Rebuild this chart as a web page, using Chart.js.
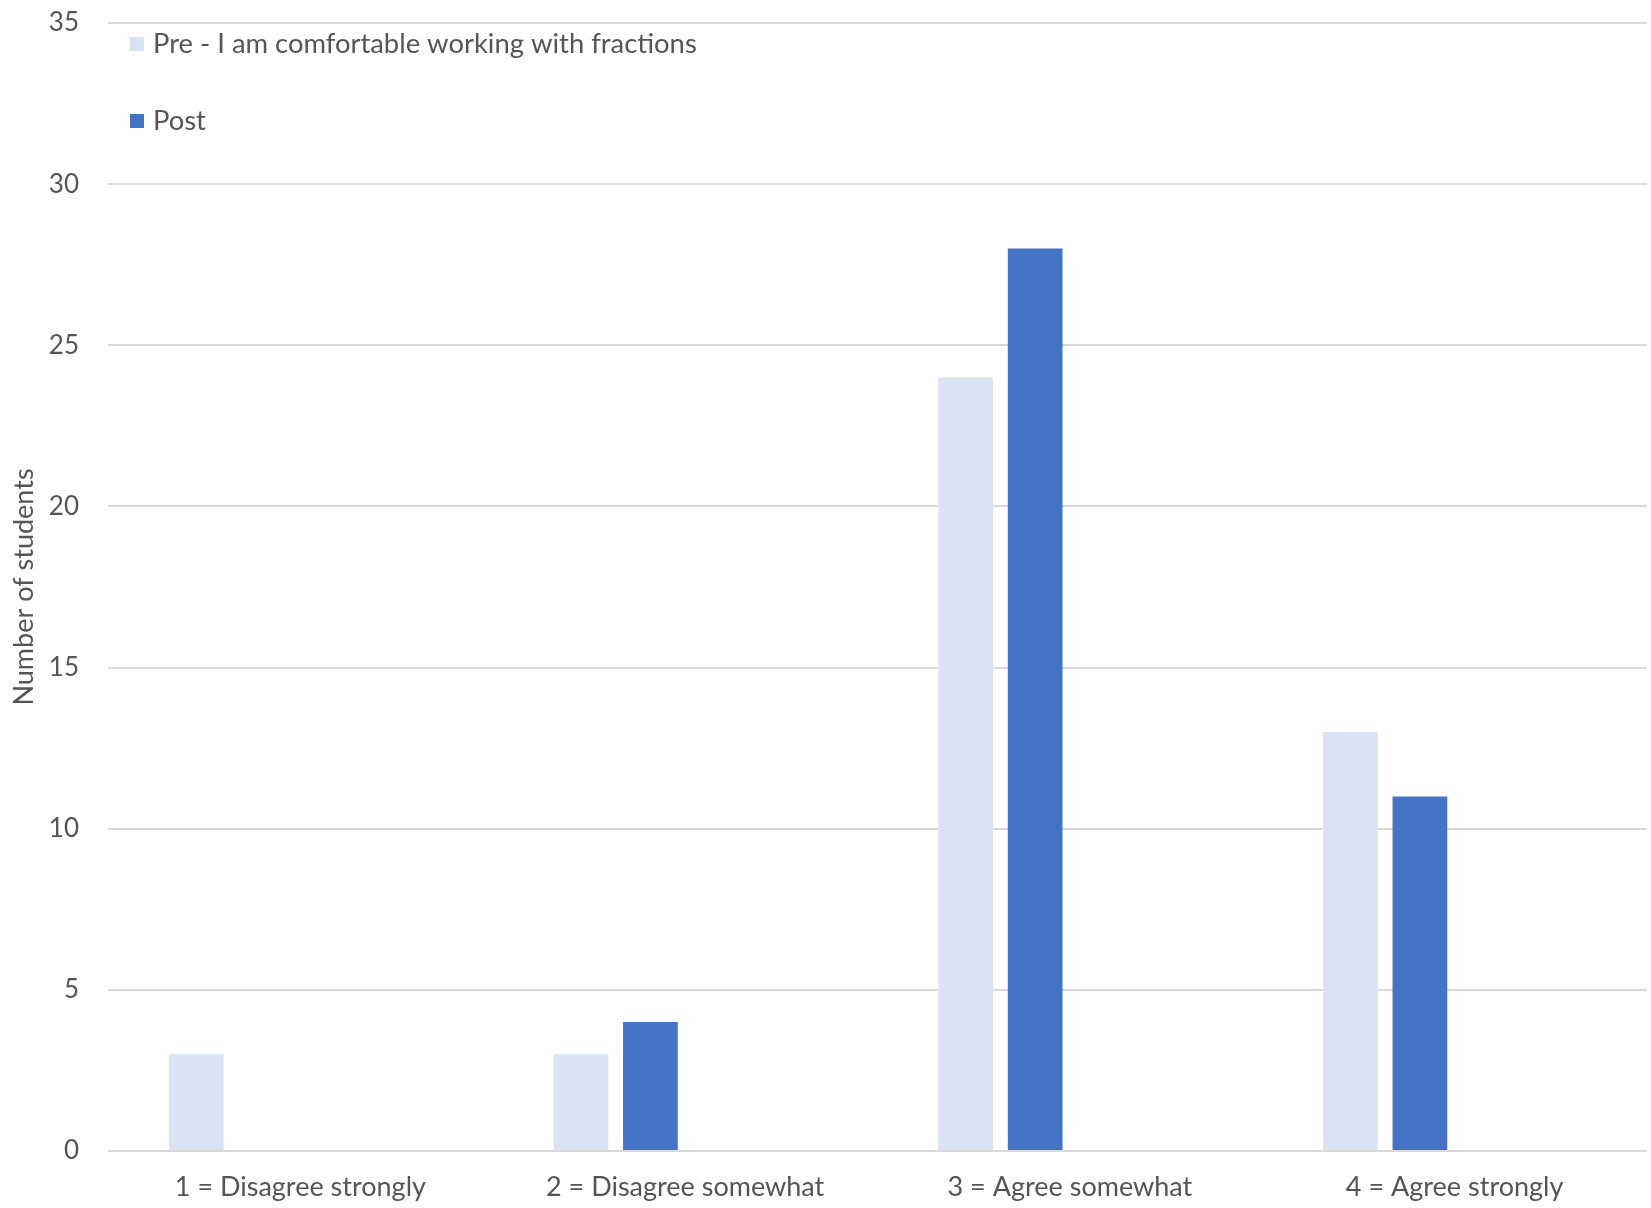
<!DOCTYPE html>
<html>
<head>
<meta charset="utf-8">
<script src="https://cdn.jsdelivr.net/npm/chart.js@4/dist/chart.umd.min.js"></script>
<style>
  html, body { margin: 0; padding: 0; background: #fff; }
  #wrap { width: 1651px; height: 1208px; position: relative; }
</style>
</head>
<body>
<div id="wrap"><canvas id="chart"></canvas></div>
<script>
// data
const categories = ["1 = Disagree strongly", "2 = Disagree somewhat", "3 = Agree somewhat", "4 = Agree strongly"];
const preLabel = "Pre - I am comfortable working with fractions";
const postLabel = "Post";
const preValues = [3, 3, 24, 13];
const postValues = [0, 4, 28, 11];
// two empty series kept in the original workbook (they reserve space right of each pair)
const emptySeries = [null, null, null, null];
const yTicks = { min: 0, max: 35, step: 5 };

const textColor = "#555555";
const fontFamily = "Lato, 'Open Sans', sans-serif";

// legend drawn inside the plot area, stacked, like the Excel one
const insideLegend = {
  id: "insideLegend",
  afterDraw(chart) {
    const { ctx, chartArea } = chart;
    const items = chart.data.datasets.filter(d => d.label);
    ctx.save();
    ctx.font = "27.4px " + fontFamily;
    ctx.textBaseline = "middle";
    items.forEach((d, i) => {
      const y = chartArea.top + 21 + i * 77;
      ctx.fillStyle = d.backgroundColor;
      ctx.fillRect(chartArea.left + 22, y - 7, 14, 14);
      ctx.fillStyle = textColor;
      ctx.fillText(d.label, chartArea.left + 45, y);
    });
    ctx.restore();
  }
};

new Chart(document.getElementById("chart"), {
  type: "bar",
  data: {
    labels: categories,
    datasets: [
      { label: preLabel, data: preValues, backgroundColor: "#DAE3F3" },
      { label: postLabel, data: postValues, backgroundColor: "#4472C4" },
      { label: "", data: emptySeries, backgroundColor: "#A5A5A5" },
      { label: "", data: emptySeries, backgroundColor: "#FFC000" }
    ]
  },
  options: {
    responsive: true,
    maintainAspectRatio: false,
    animation: false,
    devicePixelRatio: 1,
    categoryPercentage: 0.722,
    barPercentage: 0.788,
    layout: { padding: { top: 23, right: 4, left: 0, bottom: 0 } },
    plugins: {
      legend: { display: false },
      tooltip: { enabled: false }
    },
    scales: {
      x: {
        grid: { display: false, drawTicks: false },
        border: { display: false },
        ticks: { color: textColor, font: { family: fontFamily, size: 27 }, padding: 20, maxRotation: 0 },
        afterFit(scale) { scale.height = 57; }
      },
      y: {
        min: yTicks.min,
        max: yTicks.max,
        grid: { color: "#D9D9D9", lineWidth: 2, drawTicks: false },
        border: { display: false },
        ticks: { stepSize: yTicks.step, color: textColor, font: { family: fontFamily, size: 26 }, padding: 29 },
        title: {
          display: true,
          text: "Number of students",
          color: textColor,
          font: { family: fontFamily, size: 27 },
          padding: { top: 8, bottom: 0 }
        },
        afterFit(scale) {
          scale.width = 108;
          // tick padding would otherwise push the plot top down
          scale.paddingTop = 0;
          scale.paddingBottom = 0;
        }
      }
    }
  },
  plugins: [insideLegend]
});
</script>
</body>
</html>
